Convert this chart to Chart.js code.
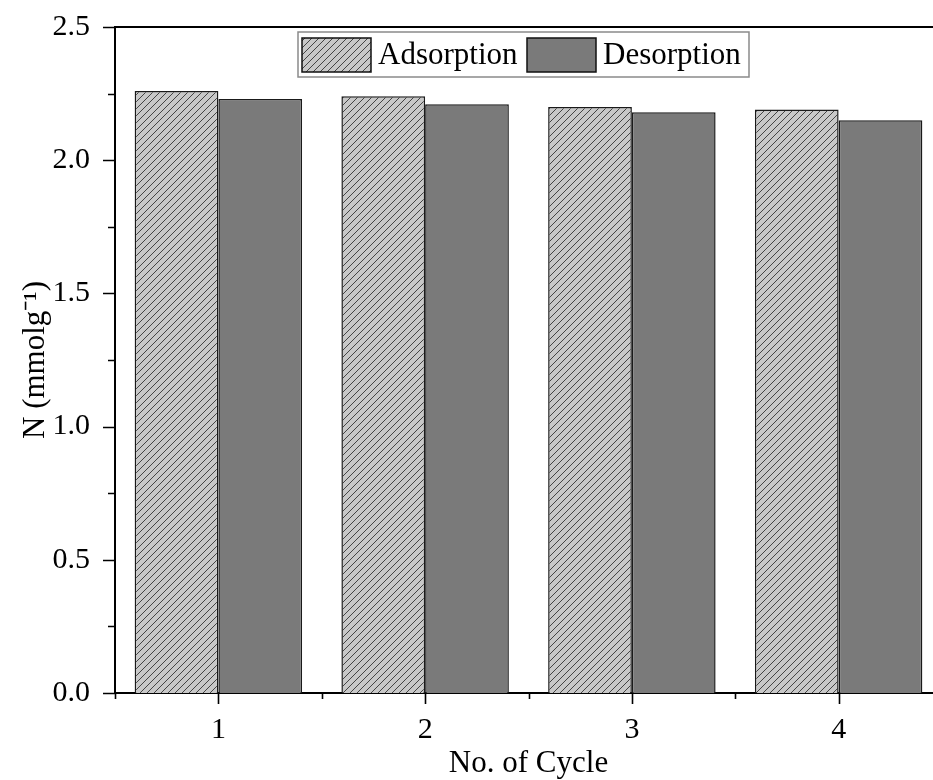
<!DOCTYPE html>
<html>
<head>
<meta charset="utf-8">
<script src="https://cdn.jsdelivr.net/npm/chart.js@4/dist/chart.umd.min.js"></script>
<style>
  html, body { margin: 0; padding: 0; background: #fff; overflow: hidden; }
  #wrap { width: 944px; height: 780px; }
</style>
</head>
<body>
<div id="wrap"><canvas id="c" width="944" height="780"></canvas></div>
<script>
// Cycle numbers and nitrogen uptake (mmol/g) per cycle
const cycles = ['1', '2', '3', '4'];
const adsorption = [2.26, 2.24, 2.20, 2.19];
const desorption = [2.23, 2.21, 2.18, 2.15];
const yTicks = [0, 0.5, 1.0, 1.5, 2.0, 2.5];

const FONT = "'Liberation Serif', 'Times New Roman', serif";
const canvas = document.getElementById('c');
const ctx = canvas.getContext('2d');

// Diagonal hatch fill for the adsorption bars
function makeHatch() {
  const s = 7;
  const t = document.createElement('canvas');
  t.width = s; t.height = s;
  const g = t.getContext('2d');
  g.fillStyle = '#c8c8c8';
  g.fillRect(0, 0, s, s);
  g.strokeStyle = '#444';
  g.lineWidth = 1.0;
  g.beginPath();
  g.moveTo(0, s); g.lineTo(s, 0);
  g.moveTo(-2, 2); g.lineTo(2, -2);
  g.moveTo(s - 2, s + 2); g.lineTo(s + 2, s - 2);
  g.stroke();
  return ctx.createPattern(t, 'repeat');
}
const hatch = makeHatch();

// Frame, tick marks and boxed legend
const decorations = {
  id: 'decorations',
  afterDraw(chart) {
    const c = chart.ctx;
    const a = chart.chartArea;
    const xs = chart.scales.x, ys = chart.scales.y;
    c.save();
    c.strokeStyle = '#000';
    c.lineWidth = 2;
    // top and right frame
    c.beginPath();
    c.moveTo(a.left, a.top); c.lineTo(a.right, a.top); c.lineTo(a.right, a.bottom);
    c.stroke();
    // y ticks: major every 0.5, minor every 0.25, pointing outward
    c.lineWidth = 1.6;
    c.beginPath();
    for (let v = 0; v <= 2.5001; v += 0.25) {
      const y = Math.round(ys.getPixelForValue(v)) + 0.5;
      const major = Math.abs(v / 0.5 - Math.round(v / 0.5)) < 1e-6;
      c.moveTo(a.left, y); c.lineTo(a.left - (major ? 12 : 7), y);
    }
    // x ticks: major at categories, minor between them
    for (let i = 0; i < cycles.length; i++) {
      const x = Math.round(xs.getPixelForValue(i)) + 0.5;
      c.moveTo(x, a.bottom); c.lineTo(x, a.bottom + 11);
      const xPrev = i === 0 ? a.left : (xs.getPixelForValue(i - 1) + xs.getPixelForValue(i)) / 2;
      const xm = Math.round(xPrev) + 0.5;
      c.moveTo(xm, a.bottom); c.lineTo(xm, a.bottom + 6);
    }
    c.stroke();

    // legend
    const lx = 298, ly = 32, lw = 451, lh = 45;
    c.fillStyle = '#fff';
    c.fillRect(lx, ly, lw, lh);
    c.strokeStyle = '#8a8a8a';
    c.lineWidth = 1.5;
    c.strokeRect(lx, ly, lw, lh);
    const items = chart.data.datasets;
    const sw = [[302, 38], [527, 38]];
    c.font = '31px ' + FONT;
    c.textBaseline = 'middle';
    c.textAlign = 'left';
    items.forEach((ds, k) => {
      const [sx, sy] = sw[k];
      c.fillStyle = ds.backgroundColor;
      c.fillRect(sx, sy, 69, 34);
      c.strokeStyle = '#111';
      c.lineWidth = 1.5;
      c.strokeRect(sx, sy, 69, 34);
      c.fillStyle = '#000';
      c.fillText(ds.label, sx + 76, sy + 18);
    });
    c.restore();
  }
};

new Chart(canvas, {
  type: 'bar',
  data: {
    labels: cycles,
    datasets: [
      {
        label: 'Adsorption',
        data: adsorption,
        backgroundColor: hatch,
        borderColor: '#1a1a1a',
        borderWidth: 1.5,
        barPercentage: 1.0,
        categoryPercentage: 0.81
      },
      {
        label: 'Desorption',
        data: desorption,
        backgroundColor: '#7a7a7a',
        borderColor: '#1a1a1a',
        borderWidth: 1.5,
        barPercentage: 1.0,
        categoryPercentage: 0.81
      }
    ]
  },
  options: {
    responsive: false,
    animation: false,
    devicePixelRatio: 1,
    layout: { padding: { top: 27, right: 2, left: 0, bottom: 0 } },
    plugins: {
      legend: { display: false },
      tooltip: { enabled: false }
    },
    scales: {
      x: {
        offset: true,
        grid: { display: false, drawTicks: false },
        border: { display: true, color: '#000', width: 2 },
        ticks: {
          color: '#000',
          font: { family: FONT, size: 30 },
          padding: 19,
          maxRotation: 0
        },
        title: {
          display: true,
          text: 'No. of Cycle',
          color: '#000',
          font: { family: FONT, size: 31 },
          padding: { top: 0, bottom: -2 }
        },
        afterFit(scale) {
          scale.height = 87;
          scale.paddingLeft = 0;
          scale.paddingRight = 0;
        }
      },
      y: {
        min: 0,
        max: 2.5,
        afterBuildTicks(scale) { scale.ticks = yTicks.map(v => ({ value: v })); },
        grid: { display: false, drawTicks: false },
        border: { display: true, color: '#000', width: 2 },
        ticks: {
          color: '#000',
          font: { family: FONT, size: 30 },
          padding: 25,
          callback: v => Number(v).toFixed(1)
        },
        title: {
          display: true,
          text: 'N (mmolg\u207B\u00B9)',
          color: '#000',
          font: { family: FONT, size: 31 },
          padding: { top: 17, bottom: 0 }
        },
        afterFit(scale) {
          scale.width = 115;
          scale.paddingTop = 0;
          scale.paddingBottom = 0;
        }
      }
    }
  },
  plugins: [decorations]
});
</script>
</body>
</html>
